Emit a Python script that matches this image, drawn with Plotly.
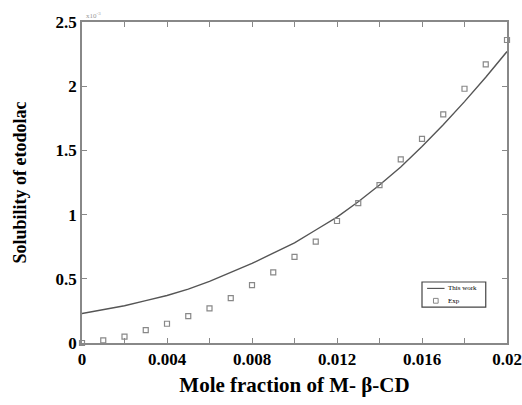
import plotly.graph_objects as go

x_vals = [0, 0.001, 0.002, 0.003, 0.004, 0.005, 0.006, 0.007, 0.008, 0.009, 0.010,
          0.011, 0.012, 0.013, 0.014, 0.015, 0.016, 0.017, 0.018, 0.019, 0.020]
model_vals = [0.23, 0.26, 0.29, 0.33, 0.37, 0.42, 0.48, 0.55, 0.62, 0.70, 0.78,
              0.88, 0.98, 1.10, 1.23, 1.37, 1.53, 1.70, 1.88, 2.07, 2.27]
exp_vals = [0.0, 0.02, 0.05, 0.10, 0.15, 0.21, 0.27, 0.35, 0.45, 0.55, 0.67,
            0.79, 0.95, 1.09, 1.23, 1.43, 1.59, 1.78, 1.98, 2.17, 2.36]
x_ticks = [0, 0.002, 0.004, 0.006, 0.008, 0.010, 0.012, 0.014, 0.016, 0.018, 0.02]
x_tick_text = ["0", " ", "0.004", " ", "0.008", " ", "0.012", " ", "0.016", " ", "0.02"]
y_ticks = [0, 0.5, 1, 1.5, 2, 2.5]
y_tick_text = ["0", "0.5", "1", "1.5", "2", "2.5"]
legend_names = ["This work", "Exp"]

line_color = "#555555"
marker_color = "#888888"

fig = go.Figure()
fig.add_trace(go.Scatter(x=x_vals, y=model_vals, mode="lines", name=legend_names[0],
                         line=dict(color=line_color, width=1.4), showlegend=False))
fig.add_trace(go.Scatter(x=x_vals, y=exp_vals, mode="markers", name=legend_names[1],
                         cliponaxis=False, showlegend=False,
                         marker=dict(symbol="square-open", size=5, color=marker_color,
                                     line=dict(width=1.2))))

serif = "Liberation Serif, Times New Roman, serif"
fig.update_layout(
    width=522, height=405,
    margin=dict(l=82, r=15, t=22, b=62),
    paper_bgcolor="white", plot_bgcolor="white",
    font=dict(family=serif, color="black"),
    showlegend=False,
    xaxis=dict(range=[0, 0.02], tickvals=x_ticks, ticktext=x_tick_text, automargin=False,
               showgrid=False, zeroline=False, showline=True, linecolor="#888888",
               linewidth=1.5, mirror="ticks", ticks="inside", ticklen=5, tickcolor="#888888",
               tickfont=dict(size=17, family=serif, color="black", weight="bold"),
               title=dict(text="<b>Mole fraction of M- β-CD</b>", font=dict(size=21, family=serif),
                          standoff=9)),
    yaxis=dict(range=[0, 2.5], tickvals=y_ticks, ticktext=y_tick_text, automargin=False,
               showgrid=False, zeroline=False, showline=True, linecolor="#888888",
               linewidth=1.5, mirror="ticks", ticks="inside", ticklen=5, tickcolor="#888888",
               tickfont=dict(size=17, family=serif, color="black", weight="bold"),
               title=dict(text="<b>Solubility of etodolac</b>", font=dict(size=18, family=serif),
                          standoff=24)),
)

# compact legend box (paper coordinates)
lx0, lx1, ly0, ly1 = 0.800, 0.950, 0.112, 0.190
fig.add_shape(type="rect", xref="paper", yref="paper", x0=lx0, x1=lx1, y0=ly0, y1=ly1,
              line=dict(color="#444444", width=1.2), fillcolor="white", layer="above")
fig.add_shape(type="line", xref="paper", yref="paper", x0=0.812, x1=0.853, y0=0.170, y1=0.170,
              line=dict(color=line_color, width=1.2), layer="above")
fig.add_shape(type="rect", xref="paper", yref="paper", x0=0.827, x1=0.838, y0=0.124, y1=0.139,
              line=dict(color=marker_color, width=1), layer="above")
fig.add_annotation(x=0.857, y=0.170, xref="paper", yref="paper", text=legend_names[0],
                   showarrow=False, xanchor="left", yanchor="middle",
                   font=dict(size=7, family=serif, color="black"))
fig.add_annotation(x=0.857, y=0.131, xref="paper", yref="paper", text=legend_names[1],
                   showarrow=False, xanchor="left", yanchor="middle",
                   font=dict(size=7, family=serif, color="black"))
fig.add_annotation(x=0, y=1, xref="paper", yref="paper", text="x10<sup>-3</sup>",
                   showarrow=False, xanchor="left", yanchor="bottom",
                   font=dict(size=7, color="#999999", family=serif), xshift=2)
fig.write_html("out.html")
